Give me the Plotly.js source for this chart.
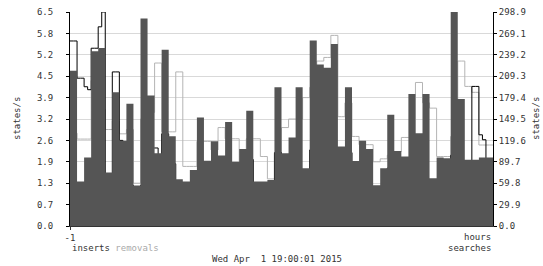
<!DOCTYPE html>
<html><head><meta charset="utf-8">
<script src="https://cdn.plot.ly/plotly-3.0.1.min.js"></script>
<style>html,body{margin:0;padding:0;background:#fff;}#chart{width:543px;height:266px;}</style>
</head><body><div id="chart"></div>
<script>
// inserts (states/s), 30 s steps over the last hour
const inserts = [5.62,5.62,4.49,4.49,4.23,4.14,5.40,5.40,6.05,6.50,
 0.54,0.54,4.68,4.68,2.60,1.82,1.43,1.24,0.99,0.99,
 1.24,2.77,2.77,2.37,2.37,1.07,2.80,2.80,1.89,1.89,
 1.04,1.04,0.51,0.51,0.89,0.89,0.89,0.89,0.85,0.79,
 0.74,0.74,0.51,0.51,0.86,0.86,0.44,0.44,0.78,0.78,
 2.02,2.02,0.49,0.49,1.01,1.01,1.01,0.51,2.23,2.23,
 0.67,0.67,0.74,0.74,1.28,1.28,0.52,0.38,2.31,2.31,
 3.11,3.11,2.26,2.26,1.30,1.30,0.89,0.89,2.23,2.23,
 0.59,0.59,0.74,0.74,1.12,1.12,0.34,0.34,0.34,0.34,
 1.76,1.76,0.65,0.65,0.72,0.72,0.89,0.89,1.76,1.76,
 0.72,0.72,0.85,0.85,0.59,0.59,0.46,0.46,2.15,2.15,
 1.17,1.17,0.52,0.52,4.24,4.24,2.77,2.62,1.95,0.85];
// removals (states/s), 30 s steps
const removals = [2.82,2.82,2.64,2.64,2.64,2.64,4.42,4.42,3.54,3.54,
 2.93,2.93,3.19,3.19,2.80,2.80,2.93,2.93,1.30,1.30,
 3.25,3.25,3.45,3.45,4.95,4.95,2.86,2.86,2.86,2.86,
 4.68,4.68,1.81,1.81,1.81,1.81,2.57,2.57,2.57,2.57,
 2.31,2.31,2.99,2.99,2.65,2.65,2.65,2.65,1.30,1.30,
 2.65,2.65,2.65,2.65,2.11,2.11,1.43,1.43,2.18,2.18,
 2.99,2.99,3.25,3.25,3.25,3.25,3.90,3.90,4.21,4.21,
 5.01,5.01,5.12,5.12,5.79,5.79,3.32,3.32,3.74,3.74,
 2.72,2.72,2.47,2.47,2.47,2.47,1.95,1.95,2.04,2.04,
 2.15,2.15,2.26,2.26,2.69,2.69,2.69,2.69,4.36,4.36,
 3.74,3.74,3.58,3.58,2.11,2.11,2.11,2.11,2.72,2.72,
 5.01,5.01,4.24,4.24,4.06,4.06,2.46,2.46,2.46,2.46];
// searches (states/s, right axis), 60 s steps
const searches = [217.0,62.2,95.6,244.2,248.7,74.7,186.8,119.0,170.7,56.5,
 289.9,182.3,101.6,246.3,125.5,65.2,62.2,78.3,151.5,91.2,
 118.4,98.6,145.3,89.7,107.6,161.1,62.2,62.2,64.3,193.7,
 101.6,123.7,193.7,80.7,259.1,225.4,221.2,254.1,111.2,193.7,
 90.9,119.0,107.6,56.8,80.7,155.4,104.6,97.1,184.4,129.7,
 184.4,66.7,95.6,94.8,298.9,177.3,92.4,92.4,95.6,95.6];
const leftTickLabels = ['0.0','0.7','1.3','1.9','2.6','3.2','3.9','4.5','5.2','5.8','6.5'];
const rightTickLabels = ['0.0','29.9','59.8','89.7','119.6','149.5','179.4','209.3','239.2','269.1','298.9'];
const leftMax = 6.5, rightMax = 298.9;
const xTickLabels = ['-1'];
const dateLabel = 'Wed Apr\u00a0 1 19:00:01 2015';

function stepTimes(n){const xs=[];for(let i=0;i<=n;i++)xs.push(-1+i/n);return xs;}
function withEnd(v){return v.concat([v[v.length-1]]);}
function ticks(max,n){const t=[];for(let i=0;i<n;i++)t.push(max*i/(n-1));return t;}

const mono = 'DejaVu Sans Mono';
const traces = [
 {x:stepTimes(searches.length), y:withEnd(searches), yaxis:'y2', type:'scatter', mode:'lines',
  line:{shape:'hv', width:0, color:'#555555'}, fill:'tozeroy', fillcolor:'#555555', hoverinfo:'skip'},
 {x:stepTimes(removals.length), y:withEnd(removals), type:'scatter', mode:'lines',
  line:{shape:'hv', width:1, color:'#b4b4b4'}, hoverinfo:'skip'},
 {x:stepTimes(inserts.length), y:withEnd(inserts), type:'scatter', mode:'lines',
  line:{shape:'hv', width:1, color:'#000000'}, hoverinfo:'skip'}
];
const font = {family:mono, size:9, color:'#333'};
const layout = {
 width:543, height:266, margin:{l:70, r:50, t:12, b:40},
 paper_bgcolor:'#fff', plot_bgcolor:'#fff', showlegend:false,
 font: font,
 xaxis:{range:[-1,0], tickvals:[-1], ticktext:xTickLabels, ticks:'outside', ticklen:3, tickcolor:'#333',
  showline:true, linecolor:'#333', linewidth:1, showgrid:false, zeroline:false, tickfont:font, fixedrange:true},
 yaxis:{range:[0,leftMax], tickvals:ticks(leftMax,11), ticktext:leftTickLabels, ticks:'outside', ticklen:3,
  tickcolor:'#000', showline:true, linecolor:'#000', linewidth:1, showgrid:true, gridcolor:'#d9d9d9',
  zeroline:false, tickfont:font, ticklabelstandoff:11, fixedrange:true},
 yaxis2:{range:[0,rightMax], overlaying:'y', side:'right', tickvals:ticks(rightMax,11), ticktext:rightTickLabels,
  ticks:'outside', ticklen:3, tickcolor:'#000', showline:true, linecolor:'#000', linewidth:1, showgrid:false,
  zeroline:false, tickfont:font, fixedrange:true},
 annotations:[
  {text:'states/s', xref:'paper', yref:'paper', x:0, y:0.5, xshift:-53, textangle:-90, showarrow:false, font:font, xanchor:'center', yanchor:'middle'},
  {text:'states/s', xref:'paper', yref:'paper', x:1, y:0.5, xshift:43, textangle:-90, showarrow:false, font:font, xanchor:'center', yanchor:'middle'},
  {text:'hours', xref:'paper', yref:'paper', x:1, y:0, yshift:-11, xanchor:'right', yanchor:'middle', showarrow:false, font:font},
  {text:'inserts <span style="color:#aaaaaa">removals</span>', xref:'paper', yref:'paper', x:0, y:0, yshift:-22, xanchor:'left', yanchor:'middle', showarrow:false, font:font},
  {text:'searches', xref:'paper', yref:'paper', x:1, y:0, yshift:-22, xanchor:'right', yanchor:'middle', showarrow:false, font:font},
  {text:dateLabel, xref:'paper', yref:'paper', x:0.49, y:0, yshift:-33, xanchor:'center', yanchor:'middle', showarrow:false, font:font}
 ]
};
Plotly.newPlot('chart', traces, layout, {displayModeBar:false, staticPlot:true});
</script></body></html>
